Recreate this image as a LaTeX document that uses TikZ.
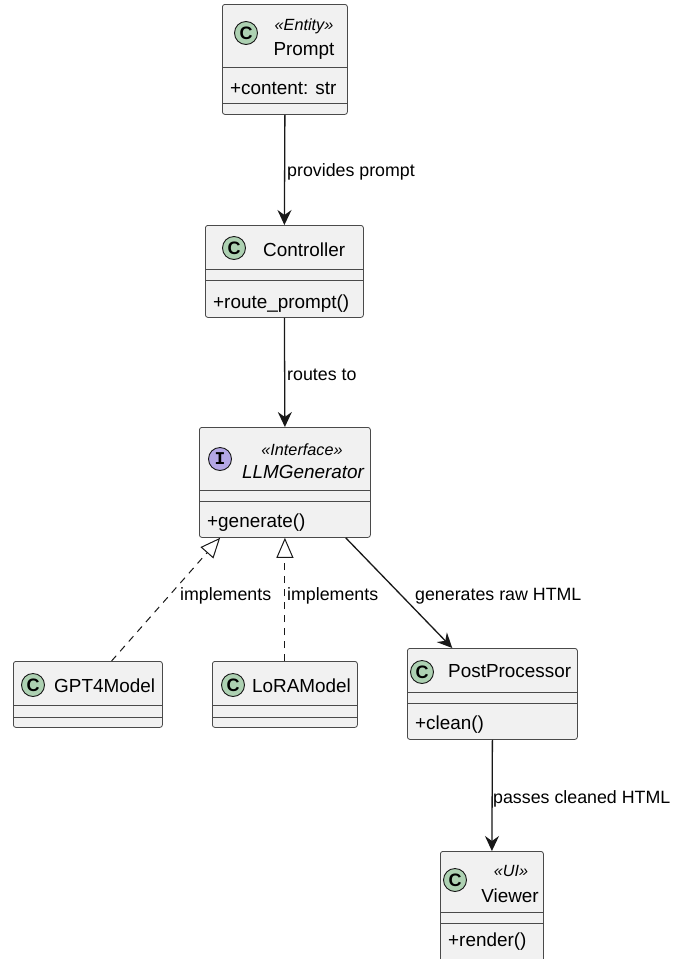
\documentclass[tikz,border=0pt]{standalone}
\usepackage{fontspec}
\setmainfont{Liberation Sans}
\newfontfamily\circfont{Liberation Mono}
\usetikzlibrary{arrows.meta,calc}
\definecolor{boxfill}{HTML}{F1F1F1}
\definecolor{boxline}{HTML}{4A4A4A}
\definecolor{arrowc}{HTML}{181818}
\definecolor{classgreen}{HTML}{ADD1B2}
\definecolor{ifacepurple}{HTML}{B4A7E5}
\begin{document}
\begin{tikzpicture}[x=1pt,y=-1pt,
  classbox/.style={draw=boxline, fill=boxfill, line width=0.8pt, rounded corners=2.5pt,
    rectangle, anchor=north west, inner sep=0pt},
  sepline/.style={draw=boxline, line width=0.8pt},
  circ/.style={circle, draw=arrowc, line width=0.9pt, minimum size=23pt, inner sep=0pt,
    font=\fontsize{18}{18}\selectfont\bfseries},
  ccirc/.style={circ, fill=classgreen},
  icirc/.style={circ, fill=ifacepurple, font=\circfont\fontsize{18}{18}\selectfont\bfseries},
  cname/.style={anchor=base, inner sep=0pt, font=\fontsize{18.9}{22}\selectfont},
  cnamew/.style={anchor=base west, inner sep=0pt, font=\fontsize{18.9}{22}\selectfont},
  member/.style={anchor=base west, inner sep=0pt, font=\fontsize{18.9}{22}\selectfont},
  stereo/.style={anchor=base, inner sep=0pt, font=\fontsize{16.2}{19}\selectfont\itshape},
  lbl/.style={anchor=base west, inner sep=0pt, font=\fontsize{17.8}{21}\selectfont},
  dep/.style={draw=arrowc, line width=1.3pt, -{Stealth[length=15pt,width=14pt,inset=5pt]}},
  impl/.style={draw=arrowc, line width=1pt, dash pattern=on 7pt off 6pt,
    -{Triangle[open,length=20pt,width=17pt,line width=1pt]}}
]
\useasboundingbox (0,0) rectangle (675,959);
\clip (0,0) rectangle (675,959);
\fill[white] (0,0) rectangle (675,959);

% ---- Prompt
\node[classbox, minimum width=125pt, minimum height=110pt] (prompt) at (222,4) {};
\draw[sepline] (222,67) -- (347,67);
\draw[sepline] (222,103) -- (347,103);
\node[ccirc] (promptc) at (246,33) {C};
\node[stereo] (promptst) at (304,30) {«Entity»};
\node[cname] (promptn) at (304,55) {Prompt};
\node[member] (promptm) at (230,94) {+content: str};

% ---- Controller
\node[classbox, minimum width=158pt, minimum height=92pt] (ctrl) at (205,225) {};
\draw[sepline] (205,269) -- (363,269);
\draw[sepline] (205,280) -- (363,280);
\node[ccirc] (ctrlc) at (234,248) {C};
\node[cnamew] (ctrln) at (263,256) {Controller};
\node[member] (ctrlm) at (213,308) {+route\_prompt()};

% ---- LLMGenerator
\node[classbox, minimum width=171pt, minimum height=110pt] (llm) at (199,427) {};
\draw[sepline] (199,490) -- (370,490);
\draw[sepline] (199,501) -- (370,501);
\node[icirc] (llmc) at (220,459) {I};
\node[stereo] (llmst) at (302,455) {«Interface»};
\node[cname, font=\fontsize{18.9}{22}\selectfont\itshape] (llmn) at (303,478) {LLMGenerator};
\node[member] (llmm) at (207,527) {+generate()};

% ---- GPT4Model
\node[classbox, minimum width=149pt, minimum height=66pt] (gpt) at (13,661) {};
\draw[sepline] (13,705) -- (162,705);
\draw[sepline] (13,717) -- (162,717);
\node[ccirc] (gptc) at (33,685) {C};
\node[cnamew] (gptn) at (54,692) {GPT4Model};

% ---- LoRAModel
\node[classbox, minimum width=145pt, minimum height=66pt] (lora) at (212,661) {};
\draw[sepline] (212,705) -- (357,705);
\draw[sepline] (212,717) -- (357,717);
\node[ccirc] (lorac) at (233,685) {C};
\node[cnamew] (loran) at (252,692) {LoRAModel};

% ---- PostProcessor
\node[classbox, minimum width=170pt, minimum height=91pt] (post) at (407,648) {};
\draw[sepline] (407,692) -- (577,692);
\draw[sepline] (407,703) -- (577,703);
\node[ccirc] (postc) at (422,672) {C};
\node[cnamew] (postn) at (448,677) {PostProcessor};
\node[member] (postm) at (415,729) {+clean()};

% ---- Viewer
\node[classbox, minimum width=103pt, minimum height=125pt] (viewer) at (440,851) {};
\draw[sepline] (440,912) -- (543,912);
\draw[sepline] (440,923) -- (543,923);
\node[ccirc] (viewerc) at (455,880) {C};
\node[stereo] (viewerst) at (511,876) {«UI»};
\node[cname] (viewern) at (510,902) {Viewer};
\node[member] (viewerm) at (448,946) {+render()};

% ---- Connectors
\draw[dep] (prompt.south) -- (ctrl.north);
\draw[dep] (ctrl.south) -- (llm.north);
\draw[impl] ($(gpt.north west)!0.658!(gpt.north east)$) -- ($(llm.south west)!0.123!(llm.south east)$);
\draw[impl] (lora.north) -- (llm.south);
\draw[dep] ($(llm.south west)!0.854!(llm.south east)$) -- ($(post.north west)!0.265!(post.north east)$);
\draw[dep] (post.south) -- (viewer.north);

% ---- Labels
\node[lbl] (l1) at (287,176) {provides prompt};
\node[lbl] (l2) at (287,380) {routes to};
\node[lbl] (l3) at (180,600) {implements};
\node[lbl] (l4) at (287,600) {implements};
\node[lbl] (l5) at (415,600) {generates raw HTML};
\node[lbl] (l6) at (493,803) {passes cleaned HTML};
\end{tikzpicture}
\end{document}
